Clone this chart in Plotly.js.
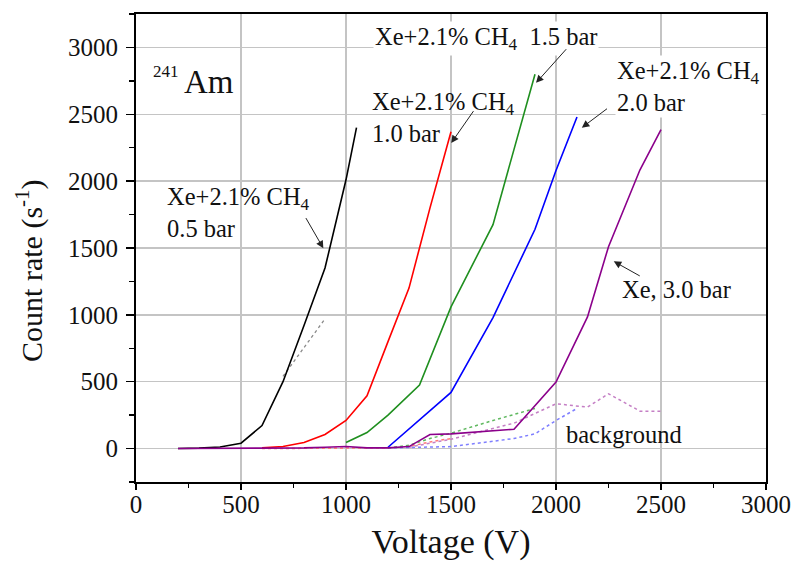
<!DOCTYPE html>
<html><head><meta charset="utf-8">
<script src="https://cdn.plot.ly/plotly-3.0.1.min.js"></script>
<style>body{margin:0;background:#fff}#plot{width:792px;height:561px}</style>
</head><body><div id="plot"></div>
<script>
// ---- data ----
const v05 = [200, 300, 400, 500, 600, 700, 800, 900, 1000, 1050];
const c05 = [0, 3, 12, 40, 172, 500, 920, 1350, 2010, 2400];
const v10 = [600, 700, 800, 900, 1000, 1100, 1200, 1300, 1400, 1500];
const c10 = [5, 15, 45, 105, 210, 395, 800, 1200, 1800, 2370];
const v15 = [1000, 1100, 1200, 1350, 1500, 1700, 1900];
const c15 = [45, 120, 250, 475, 1060, 1675, 2800];
const v20 = [1200, 1500, 1700, 1900, 2000, 2100];
const c20 = [10, 420, 980, 1640, 2080, 2480];
const vXe = [200, 300, 400, 500, 600, 700, 800, 900, 1000, 1100, 1200, 1300, 1400, 1500, 1800, 2000, 2150, 2250, 2400, 2500];
const cXe = [0, 0, 0, 0, 5, 5, 5, 10, 15, 5, 5, 15, 105, 110, 145, 497, 985, 1510, 2085, 2385];
// background (dotted)
const vBg05 = [700, 900];
const cBg05 = [540, 970];
const vBg10 = [600, 800, 1000, 1200, 1300, 1400, 1500];
const cBg10 = [0, 0, 5, 5, 15, 50, 75];
const vBg15 = [1200, 1300, 1400, 1500, 1700, 1900];
const cBg15 = [5, 25, 75, 115, 210, 300];
const vBg20 = [1200, 1500, 1800, 1900, 2000, 2100];
const cBg20 = [5, 15, 75, 110, 210, 300];
const vBgXe = [1300, 1500, 1800, 2000, 2150, 2250, 2400, 2500];
const cBgXe = [10, 70, 190, 335, 310, 410, 280, 280];
const xTicks = [0, 500, 1000, 1500, 2000, 2500, 3000];
const yTicks = [0, 500, 1000, 1500, 2000, 2500, 3000];

const F = "Liberation Serif";
function line(x, y, color, dash, w) {
  return {x: x, y: y, type: 'scatter', mode: 'lines', hoverinfo: 'skip',
          line: {color: color, width: w, dash: dash}};
}
const traces = [
  line(vBg05, cBg05, '#8a8a8a', 'dot', 1.3),
  line(vBg10, cBg10, '#ff7a7a', 'dot', 1.5),
  line(vBg15, cBg15, '#5fb85f', 'dot', 1.5),
  line(vBg20, cBg20, '#7f7fff', 'dot', 1.5),
  line(vBgXe, cBgXe, '#c57fc5', 'dot', 1.5),
  line(v05, c05, '#000000', 'solid', 1.6),
  line(v10, c10, '#ff0000', 'solid', 1.6),
  line(v15, c15, '#1f8f1f', 'solid', 1.6),
  line(v20, c20, '#0000ff', 'solid', 1.6),
  line(vXe, cXe, '#8b008b', 'solid', 1.6)
];

function txt(x, y, text, size, xa, ya, bg) {
  return {x: x, y: y, xref: 'x', yref: 'y', text: text, showarrow: false,
          xanchor: xa || 'left', yanchor: ya || 'top', align: 'left',
          font: {family: F, size: size || 24.5, color: '#111'},
          bgcolor: bg || 'rgba(0,0,0,0)', borderpad: 1};
}
function arr(tx, ty, hx, hy) {
  return {x: hx, y: hy, ax: tx, ay: ty, xref: 'x', yref: 'y', axref: 'x', ayref: 'y',
          text: '', showarrow: true, arrowhead: 2, arrowsize: 1.5, arrowwidth: 1,
          arrowcolor: '#222'};
}
const CH4 = 'Xe+2.1% CH<sub>4</sub>';
const annotations = [
  txt(215, 2905, '241', 17, 'right', 'top'),
  txt(218, 2890, 'Am', 33, 'left', 'top'),
  txt(140, 2000, CH4 + '<br>0.5 bar', 24.5),
  txt(1115, 2715, CH4 + '<br>1.0 bar', 24.5),
  txt(1130, 3195, CH4 + '  1.5 bar', 24.5, 'left', 'top', '#fff'),
  txt(2280, 2940, CH4 + '<br>2.0 bar', 24.5, 'left', 'top', '#fff'),
  txt(2305, 1305, 'Xe, 3.0 bar', 24.5),
  txt(2040, 222, 'background', 24.5),
  arr(805, 1735, 892, 1498),
  arr(1612, 2535, 1501, 2285),
  arr(2055, 2998, 1905, 2735),
  arr(2250, 2550, 2123, 2400),
  arr(2406, 1285, 2275, 1400),
  {xref: 'paper', yref: 'y', x: -0.168, y: 1330, text: 'Count rate (s<sup>-1</sup>)',
   textangle: -90, showarrow: false, xanchor: 'center', yanchor: 'middle',
   font: {family: F, size: 30, color: '#111'}}
];

const axisCommon = {
  showline: true, mirror: true, linecolor: '#000', linewidth: 2,
  ticks: 'outside', ticklen: 8, tickwidth: 1.5, tickcolor: '#000',
  showgrid: true, gridcolor: '#c4c4c4', gridwidth: 1.5, zeroline: false,
  tickfont: {family: F, size: 25, color: '#111'}
};
const layout = {
  width: 792, height: 561,
  font: {family: F},
  margin: {l: 136, r: 26, t: 14, b: 79},
  paper_bgcolor: '#fff', plot_bgcolor: '#fff',
  showlegend: false,
  xaxis: Object.assign({}, axisCommon, {
    range: [0, 3000], tickvals: xTicks, ticktext: xTicks.map(String),
    ticklen: 6, ticklabelstandoff: -7,
    minor: {dtick: 250, tick0: 0, ticks: 'outside', ticklen: 4, tickwidth: 1.5, tickcolor: '#000', showgrid: false},
    title: {text: 'Voltage (V)', font: {family: F, size: 34, color: '#111'}, standoff: 15}
  }),
  yaxis: Object.assign({}, axisCommon, {
    range: [-250, 3250], tickvals: yTicks, ticktext: yTicks.map(String),
    ticklabelstandoff: 3,
    minor: {dtick: 250, tick0: 0, ticks: 'outside', ticklen: 5, tickwidth: 1.5, tickcolor: '#000', showgrid: false}
  }),
  annotations: annotations
};
Plotly.newPlot('plot', traces, layout, {staticPlot: true, displayModeBar: false});
</script>
</body></html>
